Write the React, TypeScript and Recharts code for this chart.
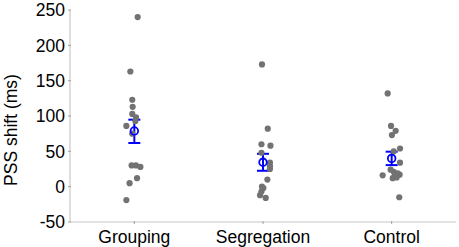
import React from 'react';
import { ComposedChart, Scatter, XAxis, YAxis, ErrorBar, Label } from 'recharts';

const categories = ['Grouping', 'Segregation', 'Control'];
const yTicks = [-50, 0, 50, 100, 150, 200, 250];

const groupingValues = [240, 163, 123, 113, 103, 98, 93, 86, 75, 30, 30, 28, 12, 5, -19];
const groupingJitter = [0.026, -0.031, -0.016, -0.013, -0.016, 0.013, 0.008, -0.062, -0.016, -0.021, 0.012, 0.047, 0.021, -0.037, -0.062];

const segregationValues = [173, 82, 60, 58, 48, 34, 29, 25, 10, 0, -2, -7, -12, -16];
const segregationJitter = [-0.008, 0.037, -0.012, 0.058, -0.012, 0.054, 0.054, 0.054, 0.034, -0.008, 0.003, -0.012, -0.023, 0.021];

const controlValues = [132, 86, 79, 73, 54, 50, 34, 24, 21, 19, 17, 16, 15, 13, 12, -15];
const controlJitter = [-0.031, -0.005, 0.031, 0.002, 0.065, 0.016, 0.065, -0.008, 0.016, 0.047, 0.062, -0.07, 0.023, 0.039, 0.008, 0.059];

const meanValues = [78.8, 34.5, 40];
const meanErrLow = [17, 12, 9.5];
const meanErrHigh = [16, 12, 9.5];

const groups = [
  { values: groupingValues, jitter: groupingJitter },
  { values: segregationValues, jitter: segregationJitter },
  { values: controlValues, jitter: controlJitter },
];

const pointData = groups.flatMap((g, gi) =>
  g.values.map((v, i) => ({ x: gi + 1 + g.jitter[i], y: v }))
);

const meanData = meanValues.map((m, i) => ({
  x: i + 1,
  y: m,
  err: [meanErrLow[i], meanErrHigh[i]],
}));

const FONT = 'Arial, "Liberation Sans", sans-serif';
const AXIS_COLOR = '#c8c8c8';
const FS = 17.5;

const XTick = (props: any) => {
  const { x, y, payload } = props;
  return (
    <g>
      <line x1={x} x2={x} y1={y} y2={y - 3} stroke="#a0a0a0" strokeWidth={1} />
      <text x={x} y={y + 18.5} textAnchor="middle" fontSize={FS} fontFamily={FONT} fill="#000">
        {categories[payload.value - 1]}
      </text>
    </g>
  );
};

const YTick = (props: any) => {
  const { x, y, payload } = props;
  return (
    <g>
      <line x1={x} x2={x + 3} y1={y} y2={y} stroke="#a0a0a0" strokeWidth={1} />
      <text x={x - 3} y={y} dy="0.355em" textAnchor="end" fontSize={FS} fontFamily={FONT} fill="#000">
        {payload.value}
      </text>
    </g>
  );
};

const GrayDot = (props: any) => (
  <circle cx={props.cx} cy={props.cy} r={3.1} fill="#727272" />
);

const MeanDot = (props: any) => (
  <circle cx={props.cx} cy={props.cy} r={3.8} fill="none" stroke="#0000ff" strokeWidth={1.8} />
);

export default function App() {
  return (
    <div style={{ position: 'absolute', left: 0, top: 0, background: '#fff' }}>
      <ComposedChart
        width={459}
        height={247}
        margin={{ top: 10, right: 3, bottom: 0, left: 0 }}
      >
        <XAxis
          type="number"
          dataKey="x"
          domain={[0.5, 3.5]}
          ticks={[1, 2, 3]}
          allowDataOverflow
          height={25}
          tickSize={0}
          tickLine={false}
          tick={<XTick />}
          axisLine={{ stroke: AXIS_COLOR, strokeWidth: 1.2 }}
        />
        <YAxis
          type="number"
          dataKey="y"
          domain={[-50, 250]}
          ticks={yTicks}
          width={70}
          tickSize={0}
          tickLine={false}
          tick={<YTick />}
          axisLine={{ stroke: AXIS_COLOR, strokeWidth: 1.2 }}
        >
          <Label
            content={(p: any) => {
              const vb = p.viewBox;
              const cx = vb.x + 11;
              const cy = vb.y + vb.height / 2 + 14;
              return (
                <text
                  x={cx}
                  y={cy}
                  transform={`rotate(-90 ${cx} ${cy})`}
                  textAnchor="middle"
                  dy="0.355em"
                  fontSize={FS}
                  fontFamily={FONT}
                  fill="#000"
                >
                  PSS shift (ms)
                </text>
              );
            }}
          />
        </YAxis>
        <Scatter data={pointData} dataKey="y" shape={<GrayDot />} isAnimationActive={false} />
        <Scatter data={meanData} dataKey="y" shape={<MeanDot />} isAnimationActive={false}>
          <ErrorBar dataKey="err" direction="y" width={6} stroke="#0000ff" strokeWidth={2} />
        </Scatter>
      </ComposedChart>
    </div>
  );
}
